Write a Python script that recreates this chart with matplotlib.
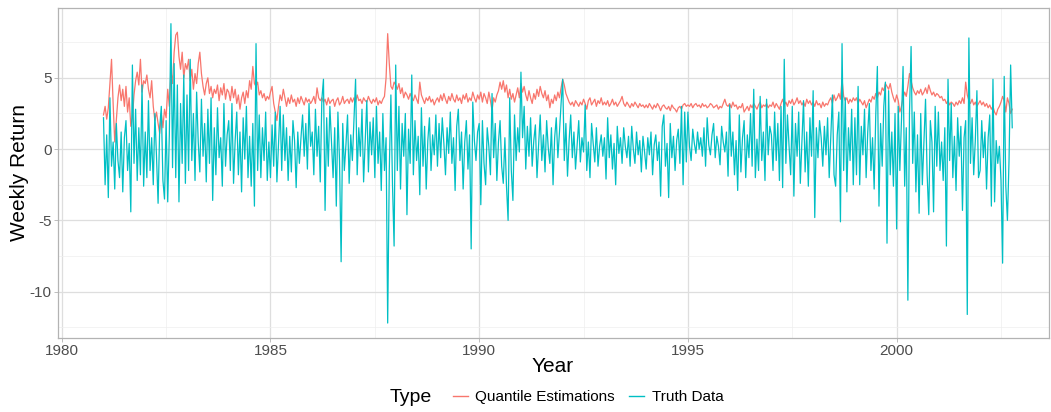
import numpy as np
import matplotlib
matplotlib.use("Agg")
import matplotlib.pyplot as plt
from matplotlib.lines import Line2D

# Weekly returns (about two values per month, one row per year)
years = list(range(1981, 2003))

truth = [
    2.2, -2.5, 1.0, -3.4, 3.6, -1.2, 0.5, -2.8, 1.8, -0.8, -2.0, 1.2, -3.0, 0.8, 2.0, -1.5, 0.4, -4.4, 5.9, -1.0, 2.8, -2.2, 1.5, -1.8, 4.5, -2.6,
    1.2, -2.0, 3.4, -1.5, 0.8, -2.5, 2.5, -0.5, -3.8, 1.5, 3.0, -2.2, -3.5, 2.0, -3.7, 1.0, 8.8, -1.3, 6.0, -2.0, 4.5, -3.7, 3.2, -1.0, 5.2, -2.4,
    3.8, -1.5, 6.3, -0.8, 2.5, -2.2, 4.0, 0.5, -1.6, 3.5, -0.5, 1.8, -2.3, 2.8, -1.0, 3.6, -3.6, 1.5, -1.8, 2.9, -0.6, 0.8, -2.6, 3.2, -1.2, 1.0,
    2.0, -1.5, 3.2, -2.4, 0.6, 2.6, -1.8, 1.2, -3.0, 2.2, -0.7, 3.0, -2.0, 0.9, -2.6, 1.8, -4.0, 7.4, -1.5, 2.4, -2.0, 1.5, -0.8, 2.6, -2.2, 0.5,
    -2.0, 1.7, -1.2, 2.6, -2.3, 0.4, 3.0, -1.5, 2.4, -0.8, 1.5, -2.2, 0.9, -1.6, 2.0, 0.6, -2.7, 1.2, -1.0, 0.8, 2.4, -0.5, 1.8, -1.4, 3.2, 0.2,
    1.2, -1.8, 2.8, -0.5, 1.6, -2.3, 3.5, 4.9, -4.3, 2.2, -1.2, 3.0, 0.5, -2.0, 1.5, -4.0, 2.6, -0.8, -7.9, 1.8, -1.5, 0.3, 2.4, -2.4, 1.0, -0.8,
    2.0, 4.9, -1.8, 1.5, -0.5, 2.8, -2.3, 0.6, 3.4, -1.6, 1.9, -0.4, 2.2, -2.0, 3.0, -1.0, 1.2, -2.9, 2.5, -1.5, 0.8, -12.2, -1.5, 3.8, -2.5, -6.8,
    5.9, -1.5, 3.0, -2.8, 1.8, -0.5, 2.5, -4.6, 1.4, -1.0, 5.2, -1.8, 2.0, -0.8, 0.9, -3.2, 2.9, -1.2, 1.6, -2.8, 0.6, 2.2, -1.5, 1.0, -0.4, 2.4,
    -1.2, 1.8, -0.6, 2.2, 0.4, -1.8, 1.5, -0.3, 2.6, -1.0, 0.8, -2.9, 1.6, 2.8, -0.8, 1.2, -2.8, 0.5, 2.0, -1.4, 1.0, -7.0, 3.3, 0.6, -0.8, 1.2,
    1.8, -3.9, 2.0, -1.0, -2.5, 1.5, 0.2, -1.8, 3.9, -0.6, 1.8, -2.2, 0.5, 2.0, -1.2, -2.4, 0.8, -2.6, -5.0, 3.6, -1.5, -3.6, 2.4, -0.8, 1.5, -0.2,
    5.4, 0.8, 3.0, -1.4, 1.6, -0.5, 2.2, -1.2, 0.6, 1.7, -2.0, 0.3, 2.4, -0.8, 1.0, -1.6, 2.0, 0.1, -1.0, 1.5, -2.5, 0.8, 2.2, -0.6, 1.2, 3.2,
    4.9, -0.8, 1.8, -1.9, 0.6, 2.4, -0.6, 1.2, -1.4, 0.3, 2.0, -0.9, 0.8, -0.2, 3.1, -1.5, 0.5, -2.0, 1.8, 0.4, -0.9, 1.5, -1.2, 0.2, 1.0, -0.5,
    0.8, -2.1, 2.2, -0.6, 1.0, -1.4, 0.4, -2.5, 1.6, -0.3, 0.8, -1.0, 1.5, 0.2, -0.6, 0.9, -1.2, 1.6, 0.0, -1.0, 1.2, -0.4, 0.6, -1.6, 0.9, -0.2,
    -1.4, 0.8, -0.4, 1.2, -1.8, 0.3, 1.0, -0.8, 0.5, -3.3, 1.6, 2.4, -1.2, 0.4, -3.4, 1.8, -0.6, 0.9, -1.5, 0.6, 1.4, -1.0, 3.0, -2.5, 2.6, -0.9,
    2.6, 0.2, -0.8, 1.4, 0.4, -0.3, 1.2, 0.0, 0.8, -0.5, 1.5, -1.2, 2.2, 0.3, -0.4, 1.0, 1.8, -0.6, 0.9, 0.2, -1.1, 1.6, 0.5, -0.2, 1.2, -1.9,
    3.1, -0.5, 1.2, -1.8, 0.6, -2.9, 2.4, -1.6, 0.8, 2.0, -2.0, 1.0, -0.6, 2.5, -1.2, 4.2, -2.0, 0.7, -1.5, 3.7, -0.8, 1.2, -2.2, 3.5, -0.4, 1.6,
    1.0, -1.5, 2.6, -0.8, 1.8, -2.2, 3.0, -2.7, 6.3, -1.0, 2.4, 0.2, -1.8, 3.0, -3.3, 1.8, -0.5, 2.6, -2.4, 0.6, 3.4, -1.6, 1.2, -2.6, 2.2, -0.5,
    4.1, -4.8, 1.5, -0.6, 2.0, 0.8, -1.2, 1.6, -0.4, 2.2, -2.0, 0.9, 3.8, -1.8, -2.6, 1.0, 2.6, -5.1, 7.4, -1.5, 3.6, -3.0, 1.5, -0.8, 2.8, -2.5,
    2.2, -1.8, 4.4, -2.5, 1.6, -0.4, 2.8, -2.0, 1.2, 3.2, -1.5, 0.8, -2.8, 2.4, 5.8, -4.0, 1.8, -1.2, 3.0, 4.7, -6.6, 4.1, -1.8, 1.2, -2.6, 2.5,
    -5.6, 3.0, -1.5, 2.0, 5.8, -2.6, 1.5, -10.6, 2.5, 7.2, -1.0, 2.6, -3.0, 1.0, -4.5, 2.5, -2.5, 0.5, 3.5, -1.8, -4.6, 2.0, 0.5, -4.4, 3.0, -1.2,
    2.6, -1.5, 0.5, -2.2, 1.5, -6.8, 4.9, -0.8, 3.2, -2.0, 0.9, -2.9, 2.2, -0.5, 1.6, -4.3, 0.8, 2.0, -11.6, 7.8, -1.0, 2.2, -1.8, 0.6, 4.1, -2.0,
    -1.5, 2.0, -0.6, 1.2, -2.8, 0.8, 2.4, -4.0, 4.9, -3.7, 0.6, -1.0, 0.2, -2.2, -8.0, 5.1, -2.6, -5.0, -0.8, 5.9, 1.5,
]

quantile = [
    2.4, 3.0, 2.1, 2.9, 4.6, 6.3, 3.2, 0.5, 2.0, 3.6, 4.5, 3.4, 4.2, 3.0, 4.4, 2.6, 3.6, 1.6, 2.2, 3.8, 4.8, 5.4, 4.5, 6.3, 4.0, 4.8,
    4.6, 5.2, 4.2, 3.6, 4.8, 3.0, 2.0, 2.6, 1.8, 1.1, 2.5, 1.5, 2.8, 2.2, 4.2, 3.0, 5.5, 4.6, 6.8, 8.0, 8.2, 6.5, 5.6, 6.8, 5.0, 6.0,
    5.6, 6.3, 4.8, 5.6, 4.2, 5.3, 4.6, 6.0, 6.8, 5.3, 4.4, 3.8, 4.6, 5.0, 3.9, 4.4, 3.6, 4.2, 3.9, 4.5, 3.4, 4.3, 3.8, 4.6, 3.5, 4.2,
    4.0, 3.4, 4.4, 3.6, 4.2, 3.2, 3.8, 2.8, 3.6, 4.0, 3.2, 4.1, 3.6, 4.8, 4.2, 5.8, 4.6, 4.4, 4.7, 3.8, 4.1, 3.6, 3.9, 3.4, 3.7, 3.5,
    4.0, 4.4, 3.2, 2.6, 2.0, 3.0, 3.8, 3.4, 4.2, 3.6, 3.0, 3.6, 3.2, 3.8, 3.3, 3.5, 3.0, 3.6, 3.2, 3.7, 3.4, 3.1, 3.6, 3.3, 3.5, 3.2,
    3.4, 3.7, 3.2, 4.3, 3.6, 3.4, 3.6, 3.3, 3.5, 3.1, 3.6, 3.2, 3.4, 3.5, 3.0, 3.4, 3.6, 3.1, 3.3, 3.7, 3.2, 3.4, 3.5, 3.2, 3.6, 3.3,
    3.6, 3.3, 3.8, 3.4, 3.5, 3.2, 3.6, 3.4, 3.3, 3.7, 3.4, 3.2, 3.5, 3.3, 3.6, 3.1, 3.4, 3.2, 3.5, 3.7, 5.0, 8.1, 6.0, 4.4, 4.2, 4.7,
    4.5, 4.2, 4.6, 3.9, 4.3, 3.6, 4.0, 3.8, 3.5, 3.9, 3.6, 3.4, 3.8, 3.5, 3.2, 4.7, 3.8, 3.5, 3.2, 3.6, 3.4, 3.7, 3.3, 3.5, 3.1, 3.4,
    3.6, 3.3, 3.8, 3.4, 3.9, 3.5, 3.2, 3.7, 3.4, 3.9, 3.5, 3.3, 3.8, 3.4, 3.6, 3.2, 3.8, 3.5, 3.9, 3.3, 3.6, 3.4, 4.0, 3.6, 3.3, 3.8,
    3.5, 4.0, 3.3, 3.9, 3.6, 3.2, 4.0, 3.4, 2.7, 3.6, 3.3, 3.8, 4.1, 4.7, 4.2, 4.8, 4.0, 4.5, 3.6, 4.2, 3.5, 3.9, 3.3, 3.8, 4.3, 3.6,
    4.6, 4.0, 4.4, 3.8, 3.4, 4.1, 3.6, 3.2, 3.9, 3.5, 4.2, 3.7, 4.4, 3.9, 3.6, 4.1, 3.4, 3.8, 2.9, 3.5, 3.2, 3.8, 3.4, 4.0, 3.6, 4.3,
    4.9, 4.5, 3.9, 3.6, 3.3, 3.1, 3.3, 3.0, 3.4, 3.2, 3.0, 3.3, 3.1, 3.5, 3.2, 2.8, 3.4, 3.6, 3.1, 3.3, 3.5, 3.0, 3.4, 3.2, 3.6, 3.1,
    3.3, 3.1, 3.4, 3.0, 3.2, 3.5, 3.1, 3.3, 3.0, 3.2, 3.4, 3.7, 3.2, 3.0, 3.3, 3.1, 2.9, 3.2, 3.0, 3.3, 3.1, 2.9, 3.2, 3.0, 3.1, 2.9,
    3.1, 2.9, 3.2, 3.0, 2.8, 3.1, 2.9, 3.2, 3.0, 2.7, 3.0, 3.1, 2.9, 2.8, 3.0, 2.7, 3.1, 2.9, 2.8, 2.6, 2.9, 3.0, 2.8, 3.1, 3.2, 3.0,
    3.1, 3.0, 3.2, 2.9, 3.1, 3.2, 3.0, 3.1, 2.9, 3.2, 3.0, 3.1, 2.9, 3.0, 3.2, 3.1, 2.9, 3.0, 3.1, 2.8, 3.0, 2.9, 3.2, 3.5, 3.1, 3.0,
    3.2, 2.9, 3.3, 3.0, 3.1, 2.8, 3.0, 2.9, 3.2, 2.6, 2.8, 3.0, 2.7, 3.1, 2.9, 3.2, 3.0, 2.8, 3.1, 3.3, 2.9, 3.1, 3.0, 3.2, 2.9, 3.1,
    3.0, 3.3, 2.9, 3.2, 3.0, 2.8, 3.2, 3.5, 3.1, 3.3, 3.0, 3.4, 3.2, 3.5, 3.1, 3.3, 3.6, 3.2, 3.4, 3.1, 3.3, 3.0, 3.5, 3.2, 3.4, 3.1,
    3.3, 3.0, 3.4, 3.1, 3.2, 2.9, 3.3, 3.0, 3.2, 3.1, 3.4, 3.6, 3.2, 3.8, 3.4, 3.6, 3.9, 3.5, 4.9, 3.7, 3.4, 3.6, 3.2, 3.5, 3.3, 3.6,
    3.4, 3.6, 3.2, 3.5, 3.3, 3.1, 3.4, 2.9, 3.2, 3.5, 3.3, 3.7, 3.5, 3.9, 3.6, 4.0, 3.8, 4.3, 4.1, 4.6, 4.4, 4.2, 4.6, 4.0, 3.6, 3.3,
    3.8, 3.4, 2.6, 3.0, 3.6, 4.0, 3.7, 4.4, 5.3, 4.8, 4.3, 4.0, 3.8, 4.1, 3.9, 4.2, 3.8, 4.0, 4.3, 3.9, 4.5, 4.1, 3.8, 4.0, 3.7, 3.9,
    3.8, 3.6, 3.7, 3.4, 3.5, 3.2, 3.4, 3.1, 3.3, 3.2, 3.0, 3.3, 3.1, 3.4, 3.2, 3.6, 3.2, 4.7, 3.8, 3.4, 3.2, 3.5, 3.1, 3.3, 3.0, 3.2,
    3.4, 3.1, 3.3, 3.0, 3.2, 2.9, 3.1, 2.8, 3.0, 2.6, 2.4, 2.8, 3.0, 3.3, 3.7, 3.4, 2.6, 3.6, 3.2, 2.5, 2.8,
]

x_ticks = [1980, 1985, 1990, 1995, 2000]
y_ticks = [-10, -5, 0, 5]
series_labels = ["Quantile Estimations", "Truth Data"]
series_colors = ["#F8766D", "#00BFC4"]

# dates: 26 samples per year, the last year is partial
dates = []
for yr in years:
    n = 26 if yr < 2002 else len(truth) - 26 * (len(years) - 1)
    dates.extend(yr + np.arange(n) / 26.0)
dates = np.array(dates)

plt.rcParams['font.family'] = ['Liberation Sans', 'DejaVu Sans']
plt.rcParams['axes.unicode_minus'] = False

fig = plt.figure(figsize=(10.51, 4.12), dpi=100)
ax = fig.add_axes([58 / 1051, 1 - 338 / 412, (1049 - 58) / 1051, (338 - 8) / 412])

ax.plot(dates, quantile, color=series_colors[0], lw=0.9, zorder=3)
ax.plot(dates, truth, color=series_colors[1], lw=0.9, zorder=4)

ax.set_xlim(1979.91, 2003.65)
ax.set_ylim(-13.25, 9.9)
ax.set_xticks(x_ticks)
ax.set_yticks(y_ticks)
ax.set_xticks([1982.5, 1987.5, 1992.5, 1997.5, 2002.5], minor=True)
ax.set_yticks([-12.5, -7.5, -2.5, 2.5, 7.5], minor=True)
ax.grid(which='major', color='#DEDEDE', lw=0.9, zorder=0)
ax.grid(which='minor', color='#EEEEEE', lw=0.5, zorder=0)
ax.tick_params(which='major', length=3, width=0.6, color='#B3B3B3',
               labelcolor='#4D4D4D', labelsize=11, pad=1.5)
ax.tick_params(which='minor', length=0)
for s in ax.spines.values():
    s.set_color('#B3B3B3')
    s.set_linewidth(0.9)

fig.text(553 / 1051, 1 - 367 / 412, "Year", fontsize=15, ha='center', va='center')
fig.text(20 / 1051, 1 - 173 / 412, "Weekly Return", fontsize=15,
         rotation=90, ha='center', va='center')

handles = [Line2D([], [], color=c, lw=1.0) for c in series_colors]
fig.legend(handles, series_labels, ncol=2, loc='center',
           bbox_to_anchor=(588 / 1051, 1 - 397 / 412), frameon=False,
           fontsize=11, handlelength=1.0, handletextpad=0.5, columnspacing=0.9)
fig.text(411 / 1051, 1 - 397 / 412, "Type", fontsize=14, ha='center', va='center')

fig.savefig("out.png", dpi=100)
